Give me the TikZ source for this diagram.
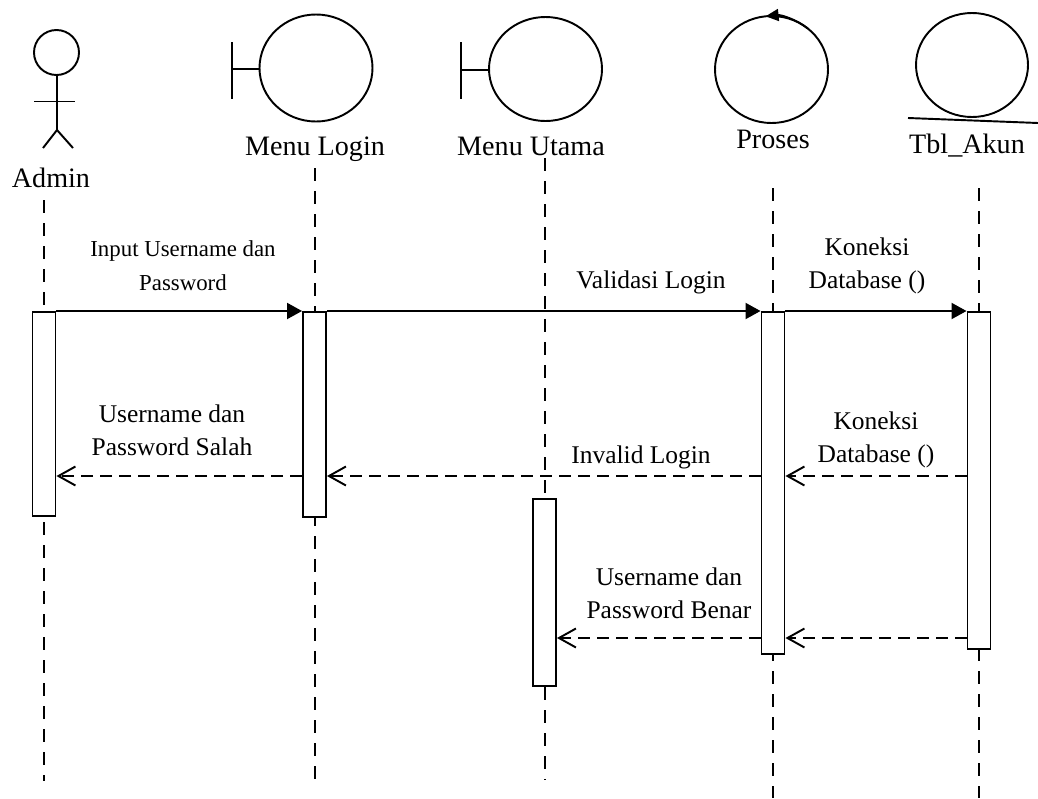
\documentclass[tikz,border=0pt]{standalone}
\usepackage{fontspec}
\setmainfont{Liberation Serif}
\usetikzlibrary{arrows.meta}
\tikzset{
	lifeline/.style={dash pattern=on 0.26cm off 0.2cm},
	actbox/.style={draw,fill=white,minimum width=0.46cm,inner sep=0pt,anchor=north},
	msg/.style={-{Triangle[length=0.3cm,width=0.32cm]}},
	ret/.style={dash pattern=on 0.24cm off 0.14cm,-{Straight Barb[length=0.34cm,width=0.38cm]}},
	head/.style={font=\fontsize{16}{19}\selectfont,anchor=base},
	lbl/.style={font=\fontsize{14.5}{19}\selectfont,align=center}
}
\begin{document}
\begin{tikzpicture}[line width=1.1pt]
		\useasboundingbox(0,0)rectangle(20.76,-15.96);
		\draw(1.13,-1.05)coordinate(C1)circle(0.45);
		\draw(1.14,-1.5)--(1.14,-2.6);
		\draw(0.68,-2.03)--(1.5,-2.03);
		\draw(0.86,-2.96)--(1.14,-2.6)--(1.46,-2.96);
		\draw(6.32,-1.36)coordinate(C2)ellipse(1.13 and 1.07);
		\draw(4.64,-0.84)--(4.64,-1.98);
		\draw(4.64,-1.38)--(5.2,-1.38);
		\draw(10.91,-1.38)coordinate(C3)ellipse(1.13 and 1.04);
		\draw(9.22,-0.84)--(9.22,-1.98);
		\draw(9.22,-1.4)--(9.78,-1.4);
		\draw(15.43,-1.39)coordinate(C4)ellipse(1.13 and 1.07);
		\draw[-{Triangle[length=0.26cm,width=0.24cm]}](C4)++(50:1.13 and 1.07)arc[start angle=50,end angle=96,x radius=1.13,y radius=1.07];
		\draw(19.44,-1.3)coordinate(C5)ellipse(1.12 and 1.04);
		\draw(18.16,-2.36)--(20.76,-2.46);
		\node[head](H1)at(1.02,-3.74){Admin};
		\node[head](H2)at(6.3,-3.1){Menu Login};
		\node[head](H3)at(10.62,-3.1){Menu Utama};
		\node[head](H4)at(15.46,-2.96){Proses};
		\node[head](H5)at(19.34,-3.06){Tbl\_Akun};
		\foreach \x/\a/\b in {0.88/4.0/15.62,6.3/3.36/15.74,10.9/3.16/15.6,15.46/3.76/15.96,19.58/3.76/15.96} {
			\draw[lifeline](\x,-\a)--(\x,-\b);
		}
		\node[actbox,minimum height=4.08cm](A1)at(0.88,-6.22){};
		\node[actbox,minimum height=4.1cm](A2)at(6.29,-6.22){};
		\node[actbox,minimum height=3.74cm](A3)at(10.89,-9.96){};
		\node[actbox,minimum height=6.84cm](A4)at(15.46,-6.22){};
		\node[actbox,minimum height=6.74cm](A5)at(19.58,-6.22){};
		\coordinate(M1)at(0,-6.22);
		\coordinate(M2)at(0,-9.52);
		\coordinate(M3)at(0,-12.76);
		\draw[msg](A1.east|-M1)--(A2.west|-M1);
		\draw[msg](A2.east|-M1)--(A4.west|-M1);
		\draw[msg](A4.east|-M1)--(A5.west|-M1);
		\draw[ret](A5.west|-M2)--(A4.east|-M2);
		\draw[ret](A4.west|-M2)--(A2.east|-M2);
		\draw[ret](A2.west|-M2)--(A1.east|-M2);
		\draw[ret](A5.west|-M3)--(A4.east|-M3);
		\draw[ret](A4.west|-M3)--(A3.east|-M3);
		\node[lbl,font=\fontsize{13}{19.4}\selectfont](T1)at(3.66,-5.32){Input Username dan\\Password};
		\node[lbl](T2)at(13.02,-5.64){Validasi Login};
		\node[lbl](T3)at(17.34,-5.32){Koneksi\\Database ()};
		\node[lbl](T4)at(17.52,-8.8){Koneksi\\Database ()};
		\node[lbl](T5)at(12.82,-9.14){Invalid Login};
		\node[lbl](T6)at(3.44,-8.6){Username dan\\Password Salah};
		\node[lbl](T7)at(13.38,-11.86){Username dan\\Password Benar};
	\end{tikzpicture}
\end{document}
